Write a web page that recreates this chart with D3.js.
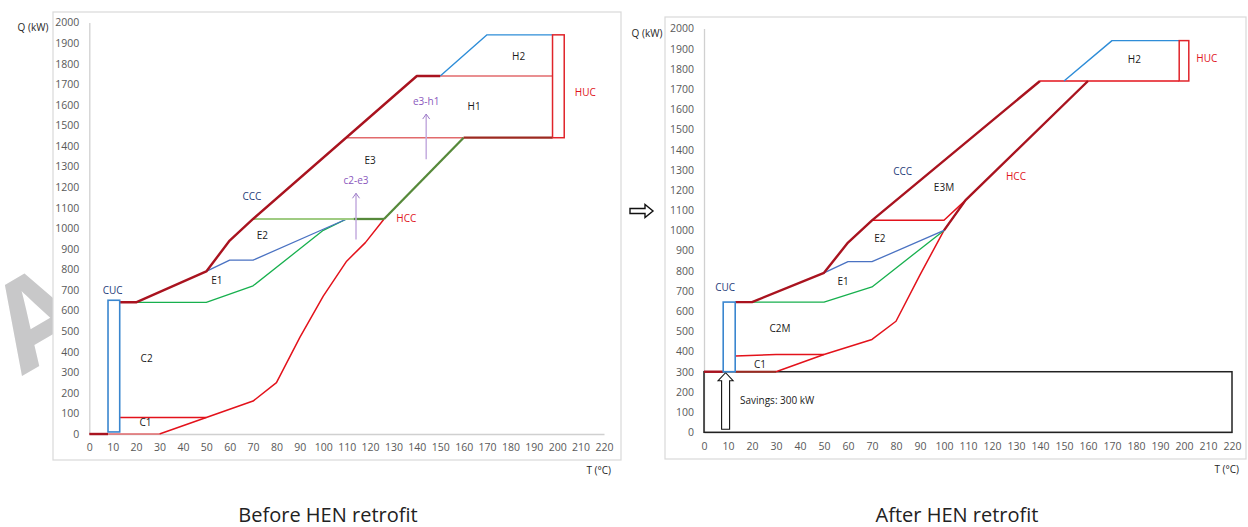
<!DOCTYPE html>
<html>
<head>
<meta charset="utf-8">
<script src="https://cdn.jsdelivr.net/npm/d3@7"></script>
<style>
  body { margin: 0; background: #fff; }
  text { font-family: "Open Sans", sans-serif; }
</style>
</head>
<body>
<svg id="chart" width="1248" height="527"></svg>
<script>
// axis ticks (T in °C, Q in kW)
const tTicks = d3.range(0, 221, 10);
const qTicks = d3.range(0, 2001, 100);

// ---- Before HEN retrofit: [T, Q] points ----
const bCccBase = [[0, 0], [8, 0]];
const bHccBase = [[8, 0], [30, 0]];
const bC1Top = [[13, 80], [50, 80]];
const bHcc = [[30, 0], [50, 80], [70, 160], [80, 250], [90, 470], [100, 670], [110, 840], [118, 930], [126, 1045]];
const bHccUpper = [[126, 1045], [160, 1440]];
const bH1Base = [[160, 1440], [198, 1440]];
const bE1 = [[20, 640], [50, 640], [70, 720], [100, 990], [110, 1045]];
const bE2 = [[50, 790], [60, 845], [70, 845], [100, 995], [110, 1045]];
const bE2TopPale = [[70, 1045], [113, 1045]];
const bE2TopDark = [[113, 1045], [126, 1045]];
const bH1Bottom = [[110, 1440], [160, 1440]];
const bH1Top = [[150, 1740], [198, 1740]];
const bH2 = [[150, 1740], [170, 1940], [198, 1940]];
const bCcc = [[13, 640], [20, 640], [50, 790], [60, 940], [70, 1045], [140, 1740], [150, 1740]];
const bCuc = { t: [8, 13], q: [10, 650] };
const bHuc = { t: [198, 203], q: [1440, 1940] };
const bMoves = [
  { label: "c2-e3", t: 114, q: [945, 1170] },
  { label: "e3-h1", t: 144, q: [1335, 1555] }
];
const bLabels = [
  { text: "C1", t: 24, q: 53, kind: "zone" },
  { text: "C2", t: 24.5, q: 364, kind: "zone" },
  { text: "E1", t: 54.5, q: 740, kind: "zone" },
  { text: "E2", t: 74, q: 960, kind: "zone" },
  { text: "E3", t: 120, q: 1323, kind: "zone" },
  { text: "H1", t: 164.5, q: 1590, kind: "zone" },
  { text: "H2", t: 183.5, q: 1830, kind: "zone" },
  { text: "CCC", t: 69.5, q: 1148, kind: "cold" },
  { text: "CUC", t: 10, q: 691, kind: "cold" },
  { text: "HCC", t: 135.5, q: 1045, kind: "hot" },
  { text: "HUC", t: 212, q: 1658, kind: "hot" }
];

// ---- After HEN retrofit ----
const aCccBase = [[0, 300], [8, 300]];
const aHccBase = [[13, 300], [30, 300]];
const aC1Top = [[13, 378], [30, 385], [50, 385]];
const aHcc = [[30, 300], [50, 385], [70, 460], [80, 550], [90, 780], [100, 1000]];
const aHccUpper = [[100, 1000], [109, 1150], [160, 1740]];
const aE1 = [[20, 645], [50, 645], [70, 720], [100, 1000]];
const aE2 = [[50, 790], [60, 845], [70, 845], [100, 1000], [109, 1150]];
const aE3Bottom = [[70, 1050], [100, 1050], [109, 1150]];
const aH2Bottom = [[140, 1740], [198, 1740]];
const aH2 = [[150, 1740], [170, 1940], [198, 1940]];
const aCcc = [[13, 645], [20, 645], [50, 790], [60, 940], [70, 1050], [140, 1740]];
const aCuc = { t: [8, 13], q: [300, 645] };
const aHuc = { t: [198, 202], q: [1740, 1940] };
const aSavings = { t: [0, 220], q: [0, 300], arrowT: 9, arrowQ: [15, 295], text: "Savings: 300 kW", textT: 15, textQ: 151 };
const aLabels = [
  { text: "C1", t: 23.3, q: 333, kind: "zone" },
  { text: "C2M", t: 31.7, q: 510, kind: "zone" },
  { text: "E1", t: 58, q: 745, kind: "zone" },
  { text: "E2", t: 73.3, q: 955, kind: "zone" },
  { text: "E3M", t: 100, q: 1208, kind: "zone" },
  { text: "H2", t: 179.3, q: 1840, kind: "zone" },
  { text: "CCC", t: 82.8, q: 1290, kind: "cold" },
  { text: "CUC", t: 8.8, q: 713, kind: "cold" },
  { text: "HCC", t: 130, q: 1262, kind: "hot" },
  { text: "HUC", t: 209.5, q: 1847, kind: "hot" }
];

const styles = {
  ccc: { stroke: "#a9131f", width: 2.4 },
  hcc: { stroke: "#e3121b", width: 1.5 },
  hccPale: { stroke: "#e26a6c", width: 1.6 },
  hccDark: { stroke: "#9c2a20", width: 2.2 },
  blue: { stroke: "#4a72c2", width: 1.3 },
  green: { stroke: "#17b04e", width: 1.3 },
  greenPale: { stroke: "#9fcb82", width: 2 },
  greenDark: { stroke: "#56893a", width: 2.3 },
  h2: { stroke: "#2e8dd8", width: 1.4 }
};
const labelColor = { zone: "#1a1a1a", cold: "#1f3d7a", hot: "#e0141c" };

const svg = d3.select("#chart");

// watermark letter peeking out left of the first frame
svg.append("text")
  .attr("transform", "translate(22,376) rotate(-30)")
  .attr("font-size", 122)
  .attr("font-weight", 700)
  .attr("fill", "#c8c8c9")
  .text("A");

function drawChart(cfg) {
  const g = svg.append("g");
  g.append("rect")
    .attr("x", cfg.frame[0]).attr("y", cfg.frame[1])
    .attr("width", cfg.frame[2]).attr("height", cfg.frame[3])
    .attr("fill", "#fff").attr("stroke", "#d9d9d9").attr("stroke-width", 1.2);

  const x = d3.scaleLinear().domain([0, 220]).range(cfg.xRange);
  const y = d3.scaleLinear().domain([0, 2000]).range(cfg.yRange);

  const yAxis = g.append("g")
    .attr("transform", `translate(${cfg.xRange[0]},0)`)
    .call(d3.axisLeft(y).tickValues(qTicks).tickFormat(d3.format("d")).tickSize(0).tickPadding(10));
  const xAxis = g.append("g")
    .attr("transform", `translate(0,${cfg.yRange[0]})`)
    .call(d3.axisBottom(x).tickValues(tTicks).tickFormat(d3.format("d")).tickSize(0).tickPadding(10));
  [xAxis, yAxis].forEach(a => {
    a.select(".domain").attr("stroke", "#d0d0d0").attr("stroke-width", 1.3);
    a.selectAll("text").attr("fill", "#595959").attr("font-size", 10.5)
      .attr("font-family", "'Open Sans', sans-serif");
  });

  g.append("text").attr("x", cfg.qTitle[0]).attr("y", cfg.qTitle[1])
    .attr("font-size", 10).attr("fill", "#262626").attr("text-anchor", "middle")
    .attr("dominant-baseline", "middle").text("Q (kW)");
  g.append("text").attr("x", cfg.tTitle[0]).attr("y", cfg.tTitle[1])
    .attr("font-size", 10).attr("fill", "#262626").attr("text-anchor", "end")
    .attr("dominant-baseline", "middle").text("T (°C)");

  const line = d3.line().x(d => x(d[0])).y(d => y(d[1]));

  const box = (b, color, width, fill) => g.append("rect")
    .attr("x", x(b.t[0])).attr("y", y(b.q[1]))
    .attr("width", x(b.t[1]) - x(b.t[0])).attr("height", y(b.q[0]) - y(b.q[1]))
    .attr("fill", fill || "none").attr("stroke", color).attr("stroke-width", width);

  if (cfg.savings) {
    const s = cfg.savings;
    box(s, "#222", 1.5);
    const cx = x(s.arrowT), yb = y(s.arrowQ[0]), yt = y(s.arrowQ[1]);
    g.append("path")
      .attr("d", `M${cx - 4},${yb} L${cx - 4},${yt + 8} L${cx - 7.5},${yt + 8} L${cx},${yt} L${cx + 7.5},${yt + 8} L${cx + 4},${yt + 8} L${cx + 4},${yb} Z`)
      .attr("fill", "#fff").attr("stroke", "#111").attr("stroke-width", 1.1);
    g.append("text").attr("x", x(s.textT)).attr("y", y(s.textQ))
      .attr("font-size", 10).attr("fill", "#1a1a1a").attr("dominant-baseline", "middle")
      .text(s.text);
  }

  cfg.series.forEach(([pts, key]) => {
    const st = styles[key];
    g.append("path").attr("d", line(pts)).attr("fill", "none")
      .attr("stroke", st.stroke).attr("stroke-width", st.width)
      .attr("stroke-linejoin", "round");
  });

  box(cfg.cuc, "#3a86cf", 1.6);
  box(cfg.huc, "#e0242a", 1.5);

  (cfg.moves || []).forEach(m => {
    const xm = x(m.t);
    g.append("line").attr("x1", xm).attr("x2", xm)
      .attr("y1", y(m.q[0])).attr("y2", y(m.q[1]))
      .attr("stroke", "#c4acdf").attr("stroke-width", 1.5);
    g.append("path")
      .attr("d", `M${xm - 3.5},${y(m.q[1]) + 5} L${xm},${y(m.q[1])} L${xm + 3.5},${y(m.q[1]) + 5}`)
      .attr("fill", "none").attr("stroke", "#9d7cc8").attr("stroke-width", 1);
    g.append("text").attr("x", xm).attr("y", y(m.q[1]) - 12)
      .attr("font-size", 10).attr("fill", "#8a58bd").attr("text-anchor", "middle")
      .attr("dominant-baseline", "middle").text(m.label);
  });

  cfg.labels.forEach(l => {
    g.append("text").attr("x", x(l.t)).attr("y", y(l.q))
      .attr("font-size", 10).attr("fill", labelColor[l.kind])
      .attr("text-anchor", "middle").attr("dominant-baseline", "middle")
      .text(l.text);
  });
}

drawChart({
  frame: [53, 12, 568, 448],
  xRange: [89.3, 604],
  yRange: [434, 22.5],
  qTitle: [33, 28],
  tTitle: [611, 471],
  series: [
    [bHccBase, "hccPale"], [bC1Top, "hcc"], [bHcc, "hcc"],
    [bE1, "green"], [bE2, "blue"], [bE2TopPale, "greenPale"], [bE2TopDark, "greenDark"],
    [bH1Bottom, "hccPale"], [bH1Top, "hccPale"], [bH2, "h2"],
    [bHccUpper, "greenDark"], [bH1Base, "hccDark"],
    [bCccBase, "ccc"], [bCcc, "ccc"]
  ],
  cuc: bCuc,
  huc: bHuc,
  moves: bMoves,
  labels: bLabels
});

drawChart({
  frame: [665, 17, 581, 442],
  xRange: [704, 1232],
  yRange: [432.3, 28.5],
  qTitle: [647, 34],
  tTitle: [1239, 470],
  savings: aSavings,
  series: [
    [aHccBase, "hccDark"], [aC1Top, "hcc"], [aHcc, "hcc"],
    [aE1, "green"], [aE2, "blue"], [aE3Bottom, "hcc"],
    [aH2Bottom, "hcc"], [aH2, "h2"],
    [aHccUpper, "ccc"], [aCccBase, "ccc"], [aCcc, "ccc"]
  ],
  cuc: aCuc,
  huc: aHuc,
  labels: aLabels
});

// transition arrow between the two diagrams
svg.append("path")
  .attr("d", "M630,208.5 L645,208.5 L645,204.5 L653,211 L645,217.5 L645,213.5 L630,213.5 Z")
  .attr("fill", "#fff").attr("stroke", "#111").attr("stroke-width", 1.4);

// captions
svg.append("text").attr("x", 328).attr("y", 522).attr("text-anchor", "middle")
  .attr("font-size", 20).attr("fill", "#222").text("Before HEN retrofit");
svg.append("text").attr("x", 957).attr("y", 522).attr("text-anchor", "middle")
  .attr("font-size", 20).attr("fill", "#222").text("After HEN retrofit");
</script>
</body>
</html>
